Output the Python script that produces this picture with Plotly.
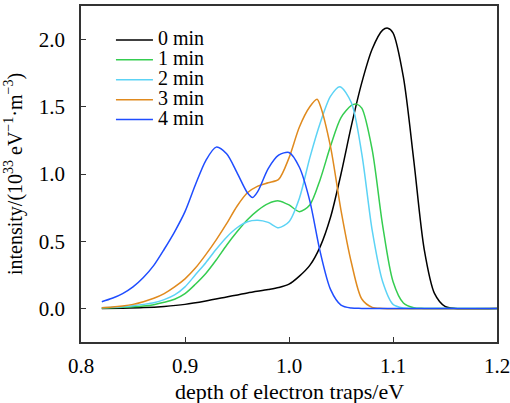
import plotly.graph_objects as go

# ---- data ----
names = ["0 min", "1 min", "2 min", "3 min", "4 min"]
colors = ["#000000", "#35cd50", "#5cd3f5", "#e08a1e", "#1f4dff"]

x0 = [0.82, 0.84, 0.86, 0.88, 0.90, 0.92, 0.94, 0.96, 0.98, 0.99, 1.00, 1.01, 1.02, 1.03,
      1.04, 1.05, 1.06, 1.07, 1.08, 1.09, 1.095, 1.10, 1.11, 1.12, 1.13, 1.14, 1.15, 1.16, 1.20]
y0 = [0.0, 0.002, 0.006, 0.015, 0.03, 0.055, 0.085, 0.115, 0.14, 0.155, 0.18, 0.24, 0.32, 0.46,
      0.68, 1.00, 1.36, 1.68, 1.93, 2.07, 2.085, 2.05, 1.72, 1.10, 0.44, 0.11, 0.015, 0.0, 0.0]

x1 = [0.82, 0.83, 0.84, 0.85, 0.86, 0.87, 0.88, 0.89, 0.90, 0.91, 0.92, 0.93, 0.94, 0.95,
      0.96, 0.97, 0.98, 0.99, 1.00, 1.01, 1.02, 1.03, 1.04, 1.05, 1.06, 1.065, 1.07, 1.08,
      1.09, 1.10, 1.11, 1.12, 1.13, 1.20]
y1 = [0.003, 0.005, 0.008, 0.012, 0.018, 0.028, 0.045, 0.068, 0.11, 0.18, 0.26, 0.36, 0.47, 0.57,
      0.66, 0.73, 0.78, 0.80, 0.77, 0.72, 0.77, 0.96, 1.21, 1.42, 1.51, 1.52, 1.49, 1.18,
      0.62, 0.20, 0.04, 0.005, 0.0, 0.0]

x2 = [0.82, 0.83, 0.84, 0.85, 0.86, 0.87, 0.88, 0.89, 0.90, 0.91, 0.92, 0.93, 0.94, 0.95,
      0.96, 0.97, 0.98, 0.99, 1.00, 1.01, 1.02, 1.03, 1.04, 1.049, 1.06, 1.07, 1.08, 1.09,
      1.10, 1.11, 1.12, 1.20]
y2 = [0.005, 0.008, 0.013, 0.02, 0.03, 0.042, 0.065, 0.10, 0.16, 0.25, 0.34, 0.44, 0.53, 0.60,
      0.645, 0.656, 0.64, 0.60, 0.645, 0.82, 1.12, 1.38, 1.58, 1.65, 1.53, 1.15, 0.58, 0.20,
      0.03, 0.003, 0.0, 0.0]

x3 = [0.82, 0.83, 0.84, 0.85, 0.86, 0.87, 0.88, 0.89, 0.90, 0.91, 0.92, 0.93, 0.94, 0.95,
      0.96, 0.97, 0.98, 0.99, 1.00, 1.01, 1.02, 1.027, 1.03, 1.04, 1.05, 1.06, 1.07, 1.08,
      1.09, 1.20]
y3 = [0.005, 0.01, 0.018, 0.03, 0.05, 0.075, 0.11, 0.16, 0.22, 0.30, 0.40, 0.51, 0.63, 0.76,
      0.86, 0.91, 0.935, 0.96, 1.12, 1.35, 1.50, 1.556, 1.51, 1.20, 0.73, 0.34, 0.07, 0.008,
      0.0, 0.0]

x4 = [0.82, 0.83, 0.84, 0.85, 0.86, 0.87, 0.88, 0.89, 0.90, 0.91, 0.92, 0.93, 0.94, 0.95,
      0.96, 0.965, 0.97, 0.98, 0.99, 1.00, 1.01, 1.02, 1.03, 1.04, 1.05, 1.06, 1.07, 1.20]
y4 = [0.05, 0.075, 0.11, 0.16, 0.23, 0.32, 0.44, 0.57, 0.72, 0.92, 1.10, 1.20, 1.15, 1.01,
      0.86, 0.825, 0.87, 1.04, 1.14, 1.16, 1.05, 0.80, 0.42, 0.14, 0.025, 0.003, 0.0, 0.0]

xs = [x0, x1, x2, x3, x4]
ys = [y0, y1, y2, y3, y4]

x_ticks = [0.8, 0.9, 1.0, 1.1, 1.2]
x_ticklabels = ["0.8", "0.9", "1.0", "1.1", "1.2"]
y_ticks = [0.0, 0.5, 1.0, 1.5, 2.0]
y_ticklabels = ["0.0", "0.5", "1.0", "1.5", "2.0"]
x_title = "depth of electron traps/eV"
y_title = "intensity/(10<sup>33</sup> eV<sup>\u22121</sup>\u00b7m<sup>\u22123</sup>)"

FONT = "Liberation Serif"

fig = go.Figure()
for n, c, x, y in zip(names, colors, xs, ys):
    fig.add_trace(go.Scatter(
        x=x, y=y, mode="lines", name='<span style="font-size:20px">' + n + "</span>",
        line=dict(color=c, width=1.5, shape="spline", smoothing=0.8),
    ))

axis_common = dict(
    showline=True, linecolor="#333333", linewidth=1.5, mirror=True,
    ticks="inside", ticklen=5, tickwidth=1, tickcolor="#333333",
    showgrid=False, zeroline=False, automargin=False,
    ticklabeloverflow="allow",
    tickfont=dict(family=FONT, size=21, color="#000000"),
)

fig.update_layout(
    width=510, height=403,
    margin=dict(l=81, r=13, t=6, b=61),
    paper_bgcolor="white", plot_bgcolor="white",
    font=dict(family=FONT, color="#000000"),
    xaxis=dict(range=[0.8, 1.2], tickvals=x_ticks, ticktext=x_ticklabels,
               ticklabelstandoff=4, **axis_common),
    yaxis=dict(range=[-0.25, 2.25], tickvals=y_ticks, ticktext=y_ticklabels,
               ticklabelstandoff=10,
               title=dict(text=y_title, font=dict(family=FONT, size=20), standoff=11),
               **axis_common),
    legend=dict(x=0.072, y=0.9435, xanchor="left", yanchor="top",
                font=dict(family=FONT, size=13, color="#000000"),
                bgcolor="rgba(0,0,0,0)", borderwidth=0, itemwidth=37),
    showlegend=True,
    annotations=[dict(text=x_title, xref="paper", yref="paper", x=0.5, y=-0.147,
                      xanchor="center", yanchor="middle", showarrow=False,
                      font=dict(family=FONT, size=22, color="#000000"))],
)

fig.write_html("out.html", config={"displayModeBar": False},
               post_script="document.body.style.margin='0';document.body.style.overflow='hidden';")
